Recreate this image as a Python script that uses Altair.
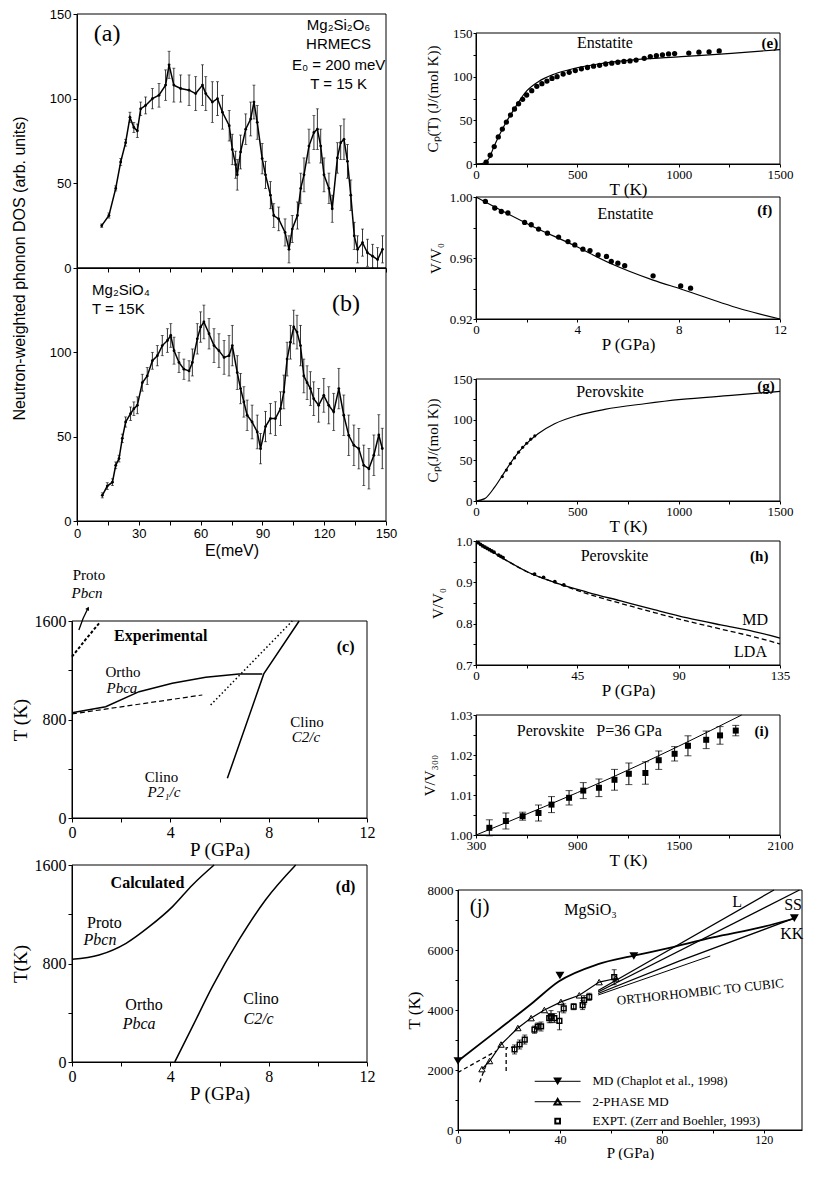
import altair as alt
import pandas as pd

SERIF = "Liberation Serif"
SANS = "Liberation Sans"

# ---------------- (a) Mg2Si2O6 neutron-weighted DOS ----------------
a_E = [12, 15.5, 18.8, 21.2, 23.6, 25.7, 27.6, 29.3, 30.9, 33.3, 36.6, 39.8, 43, 44.7, 47, 50.3, 54.4, 57.6, 60.9, 62.5,
       65.7, 68.2, 70.6, 73.9, 75.4, 77, 77.8, 79.4, 81.9, 84.3, 85.9, 87.5, 89.9, 91.5, 93.9, 95.5, 97.9, 101, 102.9, 104.5,
       107, 108.6, 110.2, 112.6, 115, 116.7, 118.3, 119.9, 122.3, 123.9, 126.4, 128, 129.6, 131.3, 132.9, 134.6, 136.2, 138.6,
       141, 143.5, 145.9, 148.3]
a_dos = [25, 31, 47, 62.6, 74, 89, 83, 81, 94, 96, 100, 102, 108, 120, 108, 106, 105, 103, 108, 103,
         98, 100, 92, 84, 70, 61, 55, 68.5, 82, 88, 98, 86, 64.6, 55, 43, 31, 29, 21, 11, 23,
         31, 47, 55, 72, 80, 82, 72, 55, 47, 35, 65, 74, 76, 63, 43, 19, 11, 15,
         9, 7, 5, 11]
a_err = [1, 1.5, 1.5, 2, 2, 3, 3, 4, 4, 5, 6, 7, 9, 8, 10, 8, 9, 10, 12, 10,
         12, 10, 10, 9, 9, 8, 9, 10, 9, 10, 10, 10, 9, 8, 8, 7, 7, 8, 8, 8,
         8, 9, 10, 10, 10, 12, 10, 10, 9, 8, 9, 10, 12, 10, 9, 8, 8, 8,
         8, 7, 7, 8]

# ---------------- (b) Mg2SiO4 ----------------
b_E = [12.3, 14.7, 17.2, 18.8, 20.4, 22, 23.6, 26, 27.6, 29.3, 31.7, 34.1, 36.6, 39, 41.4, 43.9, 45.5, 47.1, 49.5, 51.9,
       54.4, 56, 58.4, 60, 61.6, 64.1, 66.5, 68.9, 71.4, 73.8, 75.4, 77.8, 79.4, 81, 82.6, 85, 87.5, 89.1, 91.5, 93.9,
       96.3, 98.8, 100.4, 102, 103.6, 105.2, 106.8, 108.5, 110.1, 111.7, 113.3, 114.9, 117.3, 119.8, 122.2, 124.6, 127.1,
       129.5, 131.9, 134.4, 136.8, 139.2, 141.7, 144.1, 146.5, 148.2]
b_dos = [15.2, 20.7, 23, 33, 37, 49, 58.7, 63.6, 66.6, 68.6, 82, 86, 95, 98, 104, 107, 110, 101, 94, 90,
         89, 94, 108, 115, 118, 111, 104, 101, 97, 98, 104, 88, 78.5, 70.6, 62.7, 58.7, 52.8, 42.9, 56, 60.7,
         60.7, 66.6, 76.5, 96, 106, 115, 112, 104, 86, 82, 78.5, 72.5, 68.6, 74.5, 68.6, 64.7, 78.5,
         62.7, 50.8, 44.9, 42.9, 33, 31, 39, 51, 43]
b_err = [1.5, 2, 2, 2, 2, 2.5, 3, 4, 4, 5, 5, 5, 5, 6, 6, 7, 7, 8, 6, 6,
         6, 8, 9, 9, 10, 9, 10, 10, 10, 12, 12, 10, 9, 9, 9, 10, 10, 9, 9, 9,
         10, 10, 10, 10, 10, 10, 10, 12, 10, 10, 10, 10, 10, 10, 11, 11, 12,
         12, 12, 12, 12, 12, 12, 12, 12, 12]

# ---------------- (c) experimental phase diagram ----------------
c_ortho_P = [0, 1.37, 2.73, 4.08, 5.44, 6.79, 7.74]
c_ortho_T = [855, 904, 1026, 1094, 1143, 1170, 1170]
c_clino_P = [6.32, 7.8, 9.24]
c_clino_T = [322, 1170, 1600]
c_dash_P = [0, 5.3]
c_dash_T = [845, 999]
c_dot_P = [5.64, 8.96]
c_dot_T = [918, 1600]
c_proto_P = [0, 0.54, 1.1]
c_proto_T = [1310, 1446, 1581]
c_arc_P = [0.28, 0.45, 0.65]
c_arc_T = [1527, 1620, 1703]

# ---------------- (d) calculated phase diagram ----------------
d_proto_P = [0, 1.1, 2.2, 3.14, 4.09, 4.9, 5.78]
d_proto_T = [834, 869, 964, 1099, 1262, 1438, 1600]
d_clino_P = [4.18, 4.9, 5.71, 6.79, 7.87, 9.1]
d_clino_T = [0, 287, 612, 991, 1316, 1600]

# ---------------- (e) enstatite Cp ----------------
e_T = [0, 30, 59, 92, 141, 191, 240, 306, 388, 487, 602, 767, 1013, 1260, 1500]
e_C = [0, 0.5, 4.6, 21.8, 44.7, 63.8, 81, 94, 103, 109.5, 114.5, 119, 122.9, 126.7, 131]
e_exp_T = [50, 70, 90, 110, 130, 150, 170, 190, 210, 230, 250, 275, 300, 325, 350, 375, 400, 430, 460, 490,
           520, 550, 580, 610, 640, 670, 700, 730, 760, 790, 830, 860, 890, 920, 950, 980, 1050, 1100, 1150, 1200]
e_exp_C = [2, 10, 20, 31, 40, 48, 56, 63, 69, 74, 79, 84, 89, 92, 95, 98, 100, 103, 105, 107,
           109, 110.5, 112, 113, 114.5, 115.5, 116.5, 117.5, 118, 119, 121, 123, 124, 125, 126, 126.5, 127, 128, 128.5, 129.5]

# ---------------- (f) enstatite V/V0 ----------------
f_P = [0, 2.18, 3.9, 5.34, 6.99, 8.08, 10.6, 12]
f_V = [1.0, 0.9812, 0.968, 0.9562, 0.9455, 0.9397, 0.9259, 0.92]
f_exp_P = [0.37, 0.74, 1.0, 1.26, 1.92, 2.18, 2.47, 2.82, 3.26, 3.63, 3.9, 4.22, 4.5, 4.82, 5.15, 5.34, 5.6, 5.87, 6.99, 8.08, 8.47]
f_exp_V = [0.9971, 0.9928, 0.9905, 0.9895, 0.9833, 0.9818, 0.979, 0.9763, 0.9737, 0.9708, 0.9686, 0.9658, 0.9649, 0.962,
           0.961, 0.9577, 0.9566, 0.955, 0.9483, 0.9417, 0.9402]

# ---------------- (g) perovskite Cp ----------------
g_T = [0, 43, 92, 141, 191, 240, 306, 388, 503, 635, 832, 1013, 1260, 1500]
g_C = [0, 2.9, 17, 35.6, 54, 68.3, 82.7, 95, 105.3, 112.6, 119.6, 124.9, 129.8, 134.8]
g_exp_T = [130, 150, 170, 190, 210, 230, 250, 270, 290]
g_exp_C = [30, 38, 46, 53, 60, 66, 71, 76, 80]

# ---------------- (h) perovskite V/V0 ----------------
h_P = [0, 12.6, 22.9, 34.8, 49.6, 64.3, 79.1, 93.9, 108.7, 123.5, 135]
h_md_V = [1.0, 0.956, 0.925, 0.90, 0.876, 0.855, 0.834, 0.814, 0.797, 0.781, 0.765]
h_lda_V = [1.0, 0.956, 0.925, 0.90, 0.872, 0.849, 0.827, 0.806, 0.787, 0.768, 0.751]
h_exp_P = [1, 2, 3, 4, 5, 6, 7, 8, 10, 11, 12, 26, 30, 35, 39]
h_exp_V = [0.996, 0.992, 0.988, 0.985, 0.982, 0.979, 0.976, 0.973, 0.966, 0.963, 0.96, 0.92, 0.912, 0.902, 0.894]

# ---------------- (i) perovskite V/V300 at 36 GPa ----------------
i_T = [300, 700, 1100, 1500, 1873]
i_V = [1.0, 1.0070, 1.0143, 1.0222, 1.03]
i_exp_T = [379, 477, 576, 670, 747, 851, 935, 1028, 1120, 1205, 1303, 1382, 1476, 1555, 1663, 1745, 1838]
i_exp_V = [1.0018, 1.0035, 1.0047, 1.0055, 1.0076, 1.0093, 1.0111, 1.0118, 1.0138, 1.0153, 1.0155, 1.0187, 1.0203,
           1.0223, 1.0238, 1.0249, 1.0261]
i_exp_err = [0.002, 0.002, 0.001, 0.002, 0.002, 0.0018, 0.002, 0.0022, 0.0026, 0.0027, 0.0028, 0.0023, 0.0018,
             0.0025, 0.0022, 0.0022, 0.0013]

# ---------------- (j) MgSiO3 melting ----------------
j_md_P = [0, 15.6, 28.7, 39.5, 54.7, 69, 80.8, 100, 120, 132]
j_md_T = [2300, 3330, 4200, 4950, 5520, 5810, 6030, 6420, 6780, 7050]
j_md_mk_P = [0, 40, 69, 132]
j_md_mk_T = [2300, 5150, 5800, 7060]
j_2p_P = [9.4, 12.4, 16.9, 23.5, 28.7, 33.9, 40.4, 47.6, 55.4, 62]
j_2p_T = [2030, 2300, 2850, 3400, 3730, 4000, 4270, 4490, 4930, 5050]
j_L_P = [55, 124]
j_L_T = [4650, 8000]
j_SS_P = [55, 134]
j_SS_T = [4600, 8000]
j_KK_P = [55, 87, 132]
j_KK_T = [4550, 5640, 7060]
j_oc_P = [55, 99]
j_oc_T = [4500, 5800]
j_d1_P = [0, 15]
j_d1_T = [1920, 2630]
j_d2_P = [8.5, 11.1]
j_d2_T = [1590, 2190]
j_d3_P = [18.9, 18.9, 22]
j_d3_T = [1970, 2740, 2760]
j_ex_P = [22.2, 24.2, 26.2, 30, 31.3, 32.6, 35.8, 36.5, 37.8, 39.8, 41.5, 45.4, 48.9, 49.5, 51.5, 61.3]
j_ex_T = [2685, 2850, 3015, 3343, 3450, 3451, 3727, 3780, 3730, 3640, 4055, 4110, 4164, 4328, 4438, 5093]
j_ex_err = [150, 150, 150, 120, 120, 150, 150, 200, 150, 300, 150, 100, 150, 150, 120, 250]
j_leg_P = [30.1, 48.1]
j_leg_mk_P = 39.1
j_leg_T = [1623, 943, 296]
j_leg_txt = ["MD (Chaplot et al., 1998)", "2-PHASE MD", "EXPT. (Zerr and Boehler, 1993)"]

# ---------------- tick values / labels ----------------
ab_xticks = [0, 15, 30, 45, 60, 75, 90, 105, 120, 135, 150]
ab_xlabels = [(0, "0"), (30, "30"), (60, "60"), (90, "90"), (120, "120"), (150, "150")]
a_yticks = [0, 50, 100, 150]
a_ylabels = [(0, "0"), (50, "50"), (100, "100"), (150, "150")]
b_yticks = [0, 50, 100]
b_ylabels = [(0, "0"), (50, "50"), (100, "100")]
cd_xticks = [0, 2, 4, 6, 8, 10, 12]
cd_xlabels = [(0, "0"), (4, "4"), (8, "8"), (12, "12")]
cd_yticks = [0, 400, 800, 1200, 1600]
cd_ylabels = [(0, "0"), (800, "800"), (1600, "1600")]
eg_xticks = [0, 250, 500, 750, 1000, 1250, 1500]
eg_xlabels = [(0, "0"), (500, "500"), (1000, "1000"), (1500, "1500")]
eg_yticks = [0, 25, 50, 75, 100, 125, 150]
eg_ylabels = [(0, "0"), (50, "50"), (100, "100"), (150, "150")]
f_xticks = [0, 2, 4, 6, 8, 10, 12]
f_xlabels = [(0, "0"), (4, "4"), (8, "8"), (12, "12")]
f_yticks = [0.92, 0.94, 0.96, 0.98, 1.0]
f_ylabels = [(0.92, "0.92"), (0.96, "0.96"), (1.0, "1.00")]
h_xticks = [0, 22.5, 45, 67.5, 90, 112.5, 135]
h_xlabels = [(0, "0"), (45, "45"), (90, "90"), (135, "135")]
h_yticks = [0.7, 0.75, 0.8, 0.85, 0.9, 0.95, 1.0]
h_ylabels = [(0.7, "0.7"), (0.8, "0.8"), (0.9, "0.9"), (1.0, "1.0")]
i_xticks = [300, 600, 900, 1200, 1500, 1800, 2100]
i_xlabels = [(300, "300"), (900, "900"), (1500, "1500"), (2100, "2100")]
i_yticks = [1.0, 1.005, 1.01, 1.015, 1.02, 1.025, 1.03]
i_ylabels = [(1.0, "1.00"), (1.01, "1.01"), (1.02, "1.02"), (1.03, "1.03")]
j_xticks = [0, 20, 40, 60, 80, 100, 120]
j_xlabels = [(0, "0"), (40, "40"), (80, "80"), (120, "120")]
j_yticks = [0, 1000, 2000, 3000, 4000, 5000, 6000, 7000, 8000]
j_ylabels = [(0, "0"), (2000, "2000"), (4000, "4000"), (6000, "6000"), (8000, "8000")]


def lab_expr(pairs):
    e = "''"
    for v, t in reversed(pairs):
        e = "abs(datum.value - (%r)) < 1e-6 ? '%s' : (%s)" % (v, t, e)
    return e


def mk_axis(title, values, labels, font, lsize, tsize, offset=0, show=True, tpad=4,
            tick=4, lpad=2, **extra):
    kw = dict(values=values, labelFont=font, labelFontSize=lsize, titleFont=font,
              titleFontSize=tsize, titleFontWeight="normal", titleColor="black",
              labelColor="black", tickColor="black", domainColor="black",
              labelFlush=False, labelOverlap=False, tickSize=tick, labelPadding=lpad,
              titlePadding=tpad, grid=False, offset=offset)
    if show:
        kw["labelExpr"] = lab_expr(labels)
    else:
        kw["labels"] = False
    kw.update(extra)
    return alt.Axis(title=title, **kw)


class Panel:
    def __init__(self, xdom, ydom, w, h, xaxis, yaxis, xoff=0):
        self.xs = alt.Scale(domain=xdom, range=[xoff, xoff + w], nice=False, zero=False)
        self.ys = alt.Scale(domain=ydom, nice=False, zero=False)
        self.xa, self.ya = xaxis, yaxis
        self.xdom, self.ydom = xdom, ydom
        self.W, self.H = xoff + w, h
        self.layers = []
        d = pd.DataFrame({"x": [xdom[0]], "x2": [xdom[1]], "y": [ydom[0]], "y2": [ydom[1]]})
        self.layers.append(alt.Chart(d).mark_rect(fillOpacity=0, stroke="black", strokeWidth=1).encode(
            x=self.X(), x2="x2:Q", y=self.Y(), y2="y2:Q"))

    def X(self, f="x"):
        return alt.X(f + ":Q", scale=self.xs, axis=self.xa)

    def Y(self, f="y"):
        return alt.Y(f + ":Q", scale=self.ys, axis=self.ya)

    def line(self, xs, ys, **mk):
        d = pd.DataFrame({"x": xs, "y": ys, "i": list(range(len(xs)))})
        mk.setdefault("color", "black")
        mk.setdefault("strokeWidth", 1.3)
        self.layers.append(alt.Chart(d).mark_line(**mk).encode(x=self.X(), y=self.Y(), order="i:Q"))

    def points(self, xs, ys, **mk):
        d = pd.DataFrame({"x": xs, "y": ys})
        mk.setdefault("color", "black")
        self.layers.append(alt.Chart(d).mark_point(**mk).encode(x=self.X(), y=self.Y()))

    def errbars(self, xs, vals, errs, cap=4, width=0.8, **mk):
        lo = [v - e for v, e in zip(vals, errs)]
        hi = [v + e for v, e in zip(vals, errs)]
        d = pd.DataFrame({"x": xs, "y": lo, "y2": hi})
        self.layers.append(alt.Chart(d).mark_rule(color="black", strokeWidth=width, **mk).encode(
            x=self.X(), y=self.Y(), y2="y2:Q"))
        dc = pd.DataFrame({"x": list(xs) + list(xs), "y": lo + hi})
        self.layers.append(alt.Chart(dc).mark_tick(orient="horizontal", size=cap, thickness=width,
                                                   color="black", **mk).encode(x=self.X(), y=self.Y()))

    def text(self, xs, ys, ts, **mk):
        d = pd.DataFrame({"x": xs, "y": ys, "t": ts})
        mk.setdefault("color", "black")
        mk.setdefault("font", SERIF)
        mk.setdefault("fontSize", 15)
        self.layers.append(alt.Chart(d).mark_text(**mk).encode(x=self.X(), y=self.Y(), text="t:N"))

    def chart(self):
        return alt.layer(*self.layers).properties(width=self.W, height=self.H)


def spacer(h):
    d = pd.DataFrame({"x": [0], "y": [0]})
    return alt.Chart(d).mark_point(opacity=0).encode(
        x=alt.X("x:Q", axis=None), y=alt.Y("y:Q", axis=None)).properties(width=10, height=h)


# ---------------- panel (a) ----------------
A = Panel([0, 150], [0, 150], 309, 254,
          mk_axis(None, ab_xticks, ab_xlabels, SANS, 13, 16, show=False),
          mk_axis(None, a_yticks, a_ylabels, SANS, 13, 16, offset=-5), xoff=5)
A.errbars(a_E, a_dos, a_err, cap=3, clip=True)
A.line(a_E, a_dos, strokeWidth=1.5)
A.points(a_E, a_dos, filled=True, size=8, opacity=1)
A.text([14.6], [138], ["(a)"], font=SERIF, fontSize=24)
A.text([127, 127, 127, 127], [143.7, 132.5, 120, 108.9],
       ["Mg₂Si₂O₆", "HRMECS", "E₀ = 200 meV", "T = 15 K"], font=SANS, fontSize=15)

# ---------------- panel (b) ----------------
B = Panel([0, 150], [0, 150], 309, 253,
          mk_axis("E(meV)", ab_xticks, ab_xlabels, SANS, 13, 16, tpad=2),
          mk_axis("Neutron-weighted phonon DOS (arb. units)", b_yticks, b_ylabels, SANS, 13, 16,
                  offset=-5, tpad=22, titleY=0), xoff=5)
B.errbars(b_E, b_dos, b_err, cap=3, clip=True)
B.line(b_E, b_dos, strokeWidth=1.5)
B.points(b_E, b_dos, filled=True, size=8, opacity=1)
B.text([7.3, 7.3], [137, 125.7], ["Mg₂SiO₄", "T = 15K"], font=SANS, fontSize=15, align="left")
B.text([130.6], [128.7], ["(b)"], font=SERIF, fontSize=24)

# ---------------- panel (c) ----------------
C = Panel([0, 12], [0, 1600], 295, 197,
          mk_axis("P (GPa)", cd_xticks, cd_xlabels, SERIF, 16, 19, tpad=0),
          mk_axis("T (K)", cd_yticks, cd_ylabels, SERIF, 16, 19, tpad=4))
C.line(c_ortho_P, c_ortho_T, strokeWidth=1.5)
C.line(c_clino_P, c_clino_T, strokeWidth=1.5)
C.line(c_dash_P, c_dash_T, strokeWidth=1.2, strokeDash=[5, 3])
C.line(c_dot_P, c_dot_T, strokeWidth=1.5, strokeDash=[1.5, 2.5])
C.line(c_proto_P, c_proto_T, strokeWidth=2, strokeDash=[3, 2])
C.line(c_arc_P, c_arc_T, strokeWidth=1.3)
C.points([0.65], [1703], shape="triangle-up", filled=True, size=18, angle=26, opacity=1)
C.text([0.69, 3.64, 9.56, 2.07], [1974, 335, 777, 1188], ["Proto", "Clino", "Clino", "Ortho"], fontSize=15)
C.text([0.61, 2.03, 9.52, 3.74], [1828, 1053, 660, 214], ["Pbcn", "Pbca", "C2/c", "P2₁/c"],
       fontSize=15, fontStyle="italic")
C.text([3.61, 11.13], [1478, 1387], ["Experimental", "(c)"], fontSize=16, fontWeight="bold")

# ---------------- panel (d) ----------------
D = Panel([0, 12], [0, 1600], 295, 197,
          mk_axis("P (GPa)", cd_xticks, cd_xlabels, SERIF, 16, 19, tpad=0),
          mk_axis("T(K)", cd_yticks, cd_ylabels, SERIF, 16, 19, tpad=4))
D.line(d_proto_P, d_proto_T, strokeWidth=1.5, interpolate="monotone")
D.line(d_clino_P, d_clino_T, strokeWidth=1.5, interpolate="monotone")
D.text([1.32, 2.93, 7.69], [1127, 463, 509], ["Proto", "Ortho", "Clino"], fontSize=16)
D.text([1.14, 2.73, 7.59], [991, 309, 347], ["Pbcn", "Pbca", "C2/c"], fontSize=16, fontStyle="italic")
D.text([3.07, 11.13], [1452, 1424], ["Calculated", "(d)"], fontSize=16, fontWeight="bold")

# ---------------- right column ----------------
RL, RT = 13, 17  # label / title size

E = Panel([0, 1500], [0, 150], 304, 131,
          mk_axis("T (K)", eg_xticks, eg_xlabels, SERIF, RL, RT, tpad=0, tick=3, lpad=1),
          mk_axis("Cₚ(T) (J/(mol K))", eg_yticks, eg_ylabels, SERIF, RL, 15, tpad=12, tick=3, lpad=1))
E.line(e_T, e_C, interpolate="monotone", strokeWidth=1.2)
E.points(e_exp_T, e_exp_C, filled=True, size=28, opacity=1)
E.text([636], [138.6], ["Enstatite"], fontSize=16)
E.text([1450], [138.6], ["(e)"], fontSize=15, fontWeight="bold")

F = Panel([0, 12], [0.92, 1.0], 304, 122,
          mk_axis("P (GPa)", f_xticks, f_xlabels, SERIF, RL, RT, tpad=0, tick=3, lpad=1),
          mk_axis("V/V₀", f_yticks, f_ylabels, SERIF, RL, 15, tpad=6, tick=3, lpad=1))
F.line(f_P, f_V, interpolate="monotone", strokeWidth=1.2)
F.points(f_exp_P, f_exp_V, filled=True, size=28, opacity=1)
F.text([5.9], [0.989], ["Enstatite"], fontSize=16)
F.text([11.4], [0.9916], ["(f)"], fontSize=15, fontWeight="bold")

G = Panel([0, 1500], [0, 150], 304, 122,
          mk_axis("T (K)", eg_xticks, eg_xlabels, SERIF, RL, RT, tpad=0, tick=3, lpad=1),
          mk_axis("Cₚ(J/(mol K))", eg_yticks, eg_ylabels, SERIF, RL, 15, tpad=12, tick=3, lpad=1))
G.line(g_T, g_C, interpolate="monotone", strokeWidth=1.2)
G.points(g_exp_T, g_exp_C, filled=True, size=10, opacity=1)
G.text([661], [134.4], ["Perovskite"], fontSize=16)
G.text([1431], [141.8], ["(g)"], fontSize=15, fontWeight="bold")

H = Panel([0, 135], [0.7, 1.0], 304, 124,
          mk_axis("P (GPa)", h_xticks, h_xlabels, SERIF, RL, RT, tpad=0, tick=3, lpad=1),
          mk_axis("V/V₀", h_yticks, h_ylabels, SERIF, RL, 15, tpad=10, tick=3, lpad=1))
H.line(h_P, h_lda_V, interpolate="monotone", strokeWidth=1.3, strokeDash=[5, 3])
H.line(h_P, h_md_V, interpolate="monotone", strokeWidth=1.3)
H.points(h_exp_P, h_exp_V, filled=True, size=14, opacity=1)
H.text([61.5], [0.9643], ["Perovskite"], fontSize=16)
H.text([125.8], [0.9643], ["(h)"], fontSize=15, fontWeight="bold")
H.text([124, 121.9], [0.809, 0.731], ["MD", "LDA"], fontSize=16)

I = Panel([300, 2100], [1.0, 1.03], 304, 120,
          mk_axis("T (K)", i_xticks, i_xlabels, SERIF, RL, RT, tpad=0, tick=3, lpad=1),
          mk_axis("V/V₃₀₀", i_yticks, i_ylabels, SERIF, RL, 15, tpad=12, tick=3, lpad=1))
I.line(i_T, i_V, interpolate="monotone", strokeWidth=1.0)
I.errbars(i_exp_T, i_exp_V, i_exp_err, cap=7, width=1)
I.points(i_exp_T, i_exp_V, shape="square", filled=True, size=36, opacity=1)
I.text([971], [1.026], ["Perovskite\u00a0\u00a0\u00a0P=36 GPa"], fontSize=16)
I.text([1991], [1.026], ["(i)"], fontSize=15, fontWeight="bold")

J = Panel([0, 135], [0, 8000], 344, 240,
          mk_axis("P (GPa)", j_xticks, j_xlabels, SERIF, 12, 15, tpad=0, tick=3, lpad=1),
          mk_axis("T (K)", j_yticks, j_ylabels, SERIF, 13, RT, offset=18, tpad=4, tick=3, lpad=2),
          xoff=-18)
J.line(j_L_P, j_L_T, strokeWidth=1.3)
J.line(j_SS_P, j_SS_T, strokeWidth=1.3)
J.line(j_KK_P, j_KK_T, strokeWidth=1.3)
J.line(j_oc_P, j_oc_T, strokeWidth=1)
J.line(j_md_P, j_md_T, strokeWidth=1.8, interpolate="monotone")
J.line(j_2p_P, j_2p_T, strokeWidth=1.2)
J.line(j_d1_P, j_d1_T, strokeWidth=1.3, strokeDash=[4, 3])
J.line(j_d2_P, j_d2_T, strokeWidth=1.3, strokeDash=[4, 3])
J.line(j_d3_P, j_d3_T, strokeWidth=1.3, strokeDash=[4, 3])
J.errbars(j_ex_P, j_ex_T, j_ex_err, cap=5, width=1)
J.points(j_ex_P, j_ex_T, shape="square", filled=False, size=22, strokeWidth=1.5, opacity=1)
J.points(j_2p_P, j_2p_T, shape="triangle-up", filled=False, size=40, strokeWidth=1, opacity=1)
J.points(j_md_mk_P, j_md_mk_T, shape="triangle-down", filled=True, size=80, opacity=1)
# legend
J.line(j_leg_P, [j_leg_T[0], j_leg_T[0]], strokeWidth=1)
J.line(j_leg_P, [j_leg_T[1], j_leg_T[1]], strokeWidth=1)
J.points([j_leg_mk_P], [j_leg_T[0]], shape="triangle-down", filled=True, size=80, opacity=1)
J.points([j_leg_mk_P], [j_leg_T[1]], shape="triangle-up", filled=False, size=40, opacity=1)
J.points([j_leg_mk_P], [j_leg_T[2]], shape="square", filled=False, size=22, opacity=1)
J.text([52.8, 52.8, 52.8], j_leg_T, j_leg_txt, fontSize=13, align="left")
J.text([8.5], [7450], ["(j)"], fontSize=21)
J.text([52], [7340], ["MgSiO₃"], fontSize=16)
J.text([109.5, 131.5, 131], [7614, 7505, 6520], ["L", "SS", "KK"], fontSize=16)
J.text([95.1], [4600], ["ORTHORHOMBIC TO CUBIC"], fontSize=13, angle=354)

left = alt.vconcat(A.chart(), B.chart(), spacer(100), C.chart(), spacer(47), D.chart(),
                   spacing=0, bounds="flush")
right = alt.vconcat(spacer(19), E.chart(), spacer(33), F.chart(), spacer(60), G.chart(),
                    spacer(40), H.chart(), spacer(50), I.chart(), spacer(55), J.chart(),
                    spacing=0, bounds="flush")

chart = alt.hconcat(left, right, spacing=8).properties(
    padding={"left": 3, "top": 0, "right": -14, "bottom": 0}
).configure_view(strokeWidth=0)

chart.save("out.html", embed_options={"renderer": "svg", "actions": False})
